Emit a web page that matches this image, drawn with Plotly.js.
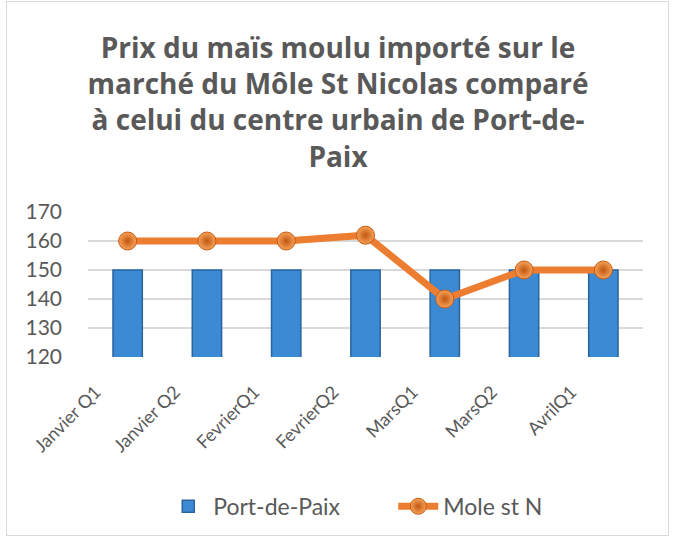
<!DOCTYPE html>
<html>
<head>
<meta charset="utf-8">
<script src="https://cdn.plot.ly/plotly-3.0.1.min.js"></script>
<style>
html,body{margin:0;padding:0;background:#fff;}
#wrap{position:relative;width:676px;height:539px;}
#chart{width:676px;height:539px;}
#frame{position:absolute;left:6px;top:1px;width:661px;height:533px;border:1px solid #d9d9d9;pointer-events:none;}
</style>
</head>
<body>
<div id="wrap"><div id="chart"></div><div id="frame"></div></div>
<script>
const categories = ["Janvier Q1","Janvier Q2","FevrierQ1","FevrierQ2","MarsQ1","MarsQ2","AvrilQ1"];
const portDePaix = [150,150,150,150,150,150,150];
const moleStN = [160,160,160,162,140,150,150];
const yTicks = [120,130,140,150,160,170];

const txt = '#595959';
const traces = [
  {
    type:'bar', name:'Port-de-Paix', x:categories, y:portDePaix,
    base:0,
    width:0.37,
    marker:{color:'#3d8ad4', line:{color:'#2a64a0', width:1.5}}
  },
  {
    type:'scatter', mode:'lines+markers', name:'Mole st N', x:categories, y:moleStN,
    line:{color:'#ed7d31', width:7},
    marker:{symbol:'circle', size:18, color:'#f7a25a',
      gradient:{type:'radial', color:'#c0560f'},
      line:{color:'#c55a11', width:1}}
  }
];
const layout = {
  width:676, height:539,
  margin:{l:88, r:33, t:212, b:182},
  paper_bgcolor:'#fff', plot_bgcolor:'#fff',
  font:{family:'Lato, "Open Sans", sans-serif', color:txt},
  title:{
    text:'<b>Prix du maïs moulu importé sur le<br>marché du Môle St Nicolas comparé<br>à celui du centre urbain de Port-de-<br>Paix</b>',
    font:{family:'"Open Sans", Lato, sans-serif', size:28, color:txt},
    x:0.5, xanchor:'center', xref:'container',
    y:0.893, yanchor:'middle', yref:'container'
  },
  showlegend:true,
  legend:{orientation:'h', x:0.55, xanchor:'center', y:-1.03, yanchor:'middle',
    font:{size:23, color:txt}, itemwidth:40, entrywidth:175, tracegroupgap:0},
  bargap:0.63,
  xaxis:{
    type:'category', tickangle:-45, tickfont:{size:18, color:txt},
    ticklabelshift:-32, ticklabelstandoff:20,
    showgrid:false, zeroline:false, showline:false, ticks:''
  },
  yaxis:{
    range:[120,170], tickvals:yTicks, ticktext:yTicks.map(String),
    tickfont:{size:21, color:txt}, ticklabelstandoff:25,
    showgrid:true, gridcolor:'#d9d9d9', gridwidth:1.5,
    zeroline:false, showline:false, ticks:''
  }
};
Plotly.newPlot('chart', traces, layout, {displayModeBar:false, staticPlot:true});
</script>
</body>
</html>
